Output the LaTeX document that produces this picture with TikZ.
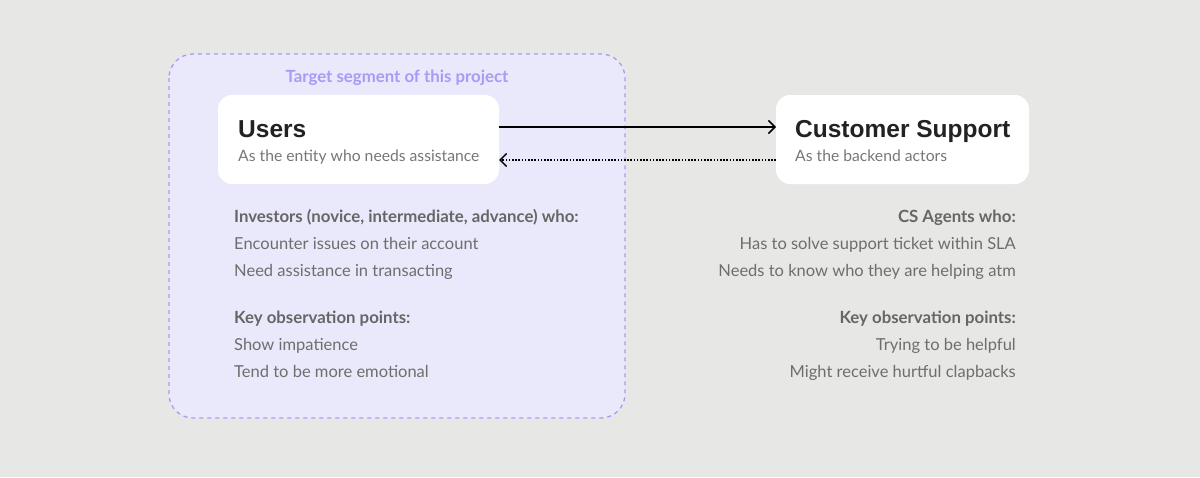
\documentclass[tikz,border=0pt]{standalone}
\usepackage{fontspec}
\setmainfont{Lato}
\newfontfamily\titlefont{Liberation Sans}
\usetikzlibrary{arrows.meta}
\definecolor{bgc}{HTML}{E7E7E5}
\definecolor{segfill}{HTML}{EAE8FB}
\definecolor{segline}{HTML}{A59CF5}
\definecolor{titlec}{HTML}{222222}
\definecolor{subc}{HTML}{777777}
\definecolor{bodyc}{HTML}{6E6E6E}
\definecolor{boldc}{HTML}{666666}
\tikzset{
  card/.style={fill=white, rounded corners=14pt, draw=none},
  cardtitle/.style={anchor=base west, inner sep=0pt, font=\titlefont\bfseries\fontsize{24.5}{28}\selectfont, text=titlec},
  cardsub/.style={anchor=base west, inner sep=0pt, font=\fontsize{15.7}{18}\selectfont, text=subc},
  bodyl/.style={anchor=base west, inner sep=0pt, font=\fontsize{16.5}{19}\selectfont, text=bodyc},
  bodyr/.style={anchor=base east, inner sep=0pt, font=\fontsize{16.5}{19}\selectfont, text=bodyc},
  headl/.style={bodyl, font=\bfseries\fontsize{16.8}{19}\selectfont, text=boldc},
  headr/.style={bodyr, font=\bfseries\fontsize{16.8}{19}\selectfont, text=boldc},
  link/.style={line width=1.5pt, -{Straight Barb[length=6.5pt,width=13pt,line width=1.5pt]}},
}
\begin{document}
\begin{tikzpicture}[x=1pt,y=-1pt]
\fill[bgc] (0,0) rectangle (1200,477);
\useasboundingbox (0,0) rectangle (1200,477);
% target segment
\draw[fill=segfill, draw=segline, line width=1.3pt, dash pattern=on 4pt off 4pt, rounded corners=24pt] (169,54) rectangle (625,418);
\node[anchor=base, inner sep=0pt, font=\bfseries\fontsize{16.8}{19}\selectfont, text=segline] (seg) at (397,82.5) {Target segment of this project};
% cards
\path[card] (218,95) rectangle (499,184);
\coordinate (uR1) at (499,127);
\coordinate (uR2) at (499,160);
\node[cardtitle] (users) at (238,137.5) {Users};
\node[cardsub] (usersub) at (238,161) {As the entity who needs assistance};
\path[card] (776,95) rectangle (1029,184);
\coordinate (cL1) at (776,127);
\coordinate (cL2) at (776,160);
\node[cardtitle] (cs) at (795,137.5) {Customer Support};
\node[cardsub] (cssub) at (795,161) {As the backend actors};
% connectors
\draw[link] (uR1) -- (cL1);
\draw[link, dash pattern=on 1.6pt off 1.6pt] (cL2) -- (uR2);
% left text
\node[headl] (l1) at (234,222.5) {Investors (novice, intermediate, advance) who:};
\node[bodyl] (l2) at (234,249.5) {Encounter issues on their account};
\node[bodyl] (l3) at (234,276.5) {Need assistance in transacting};
\node[headl] (l4) at (234,323.5) {Key observation points:};
\node[bodyl] (l5) at (234,350.5) {Show impatience};
\node[bodyl] (l6) at (234,377.5) {Tend to be more emotional};
% right text
\node[headr] (r1) at (1016,222.5) {CS Agents who:};
\node[bodyr] (r2) at (1016,249.5) {Has to solve support ticket within SLA};
\node[bodyr] (r3) at (1016,276.5) {Needs to know who they are helping atm};
\node[headr] (r4) at (1016,323.5) {Key observation points:};
\node[bodyr] (r5) at (1016,350.5) {Trying to be helpful};
\node[bodyr] (r6) at (1016,377.5) {Might receive hurtful clapbacks};
\end{tikzpicture}
\end{document}
